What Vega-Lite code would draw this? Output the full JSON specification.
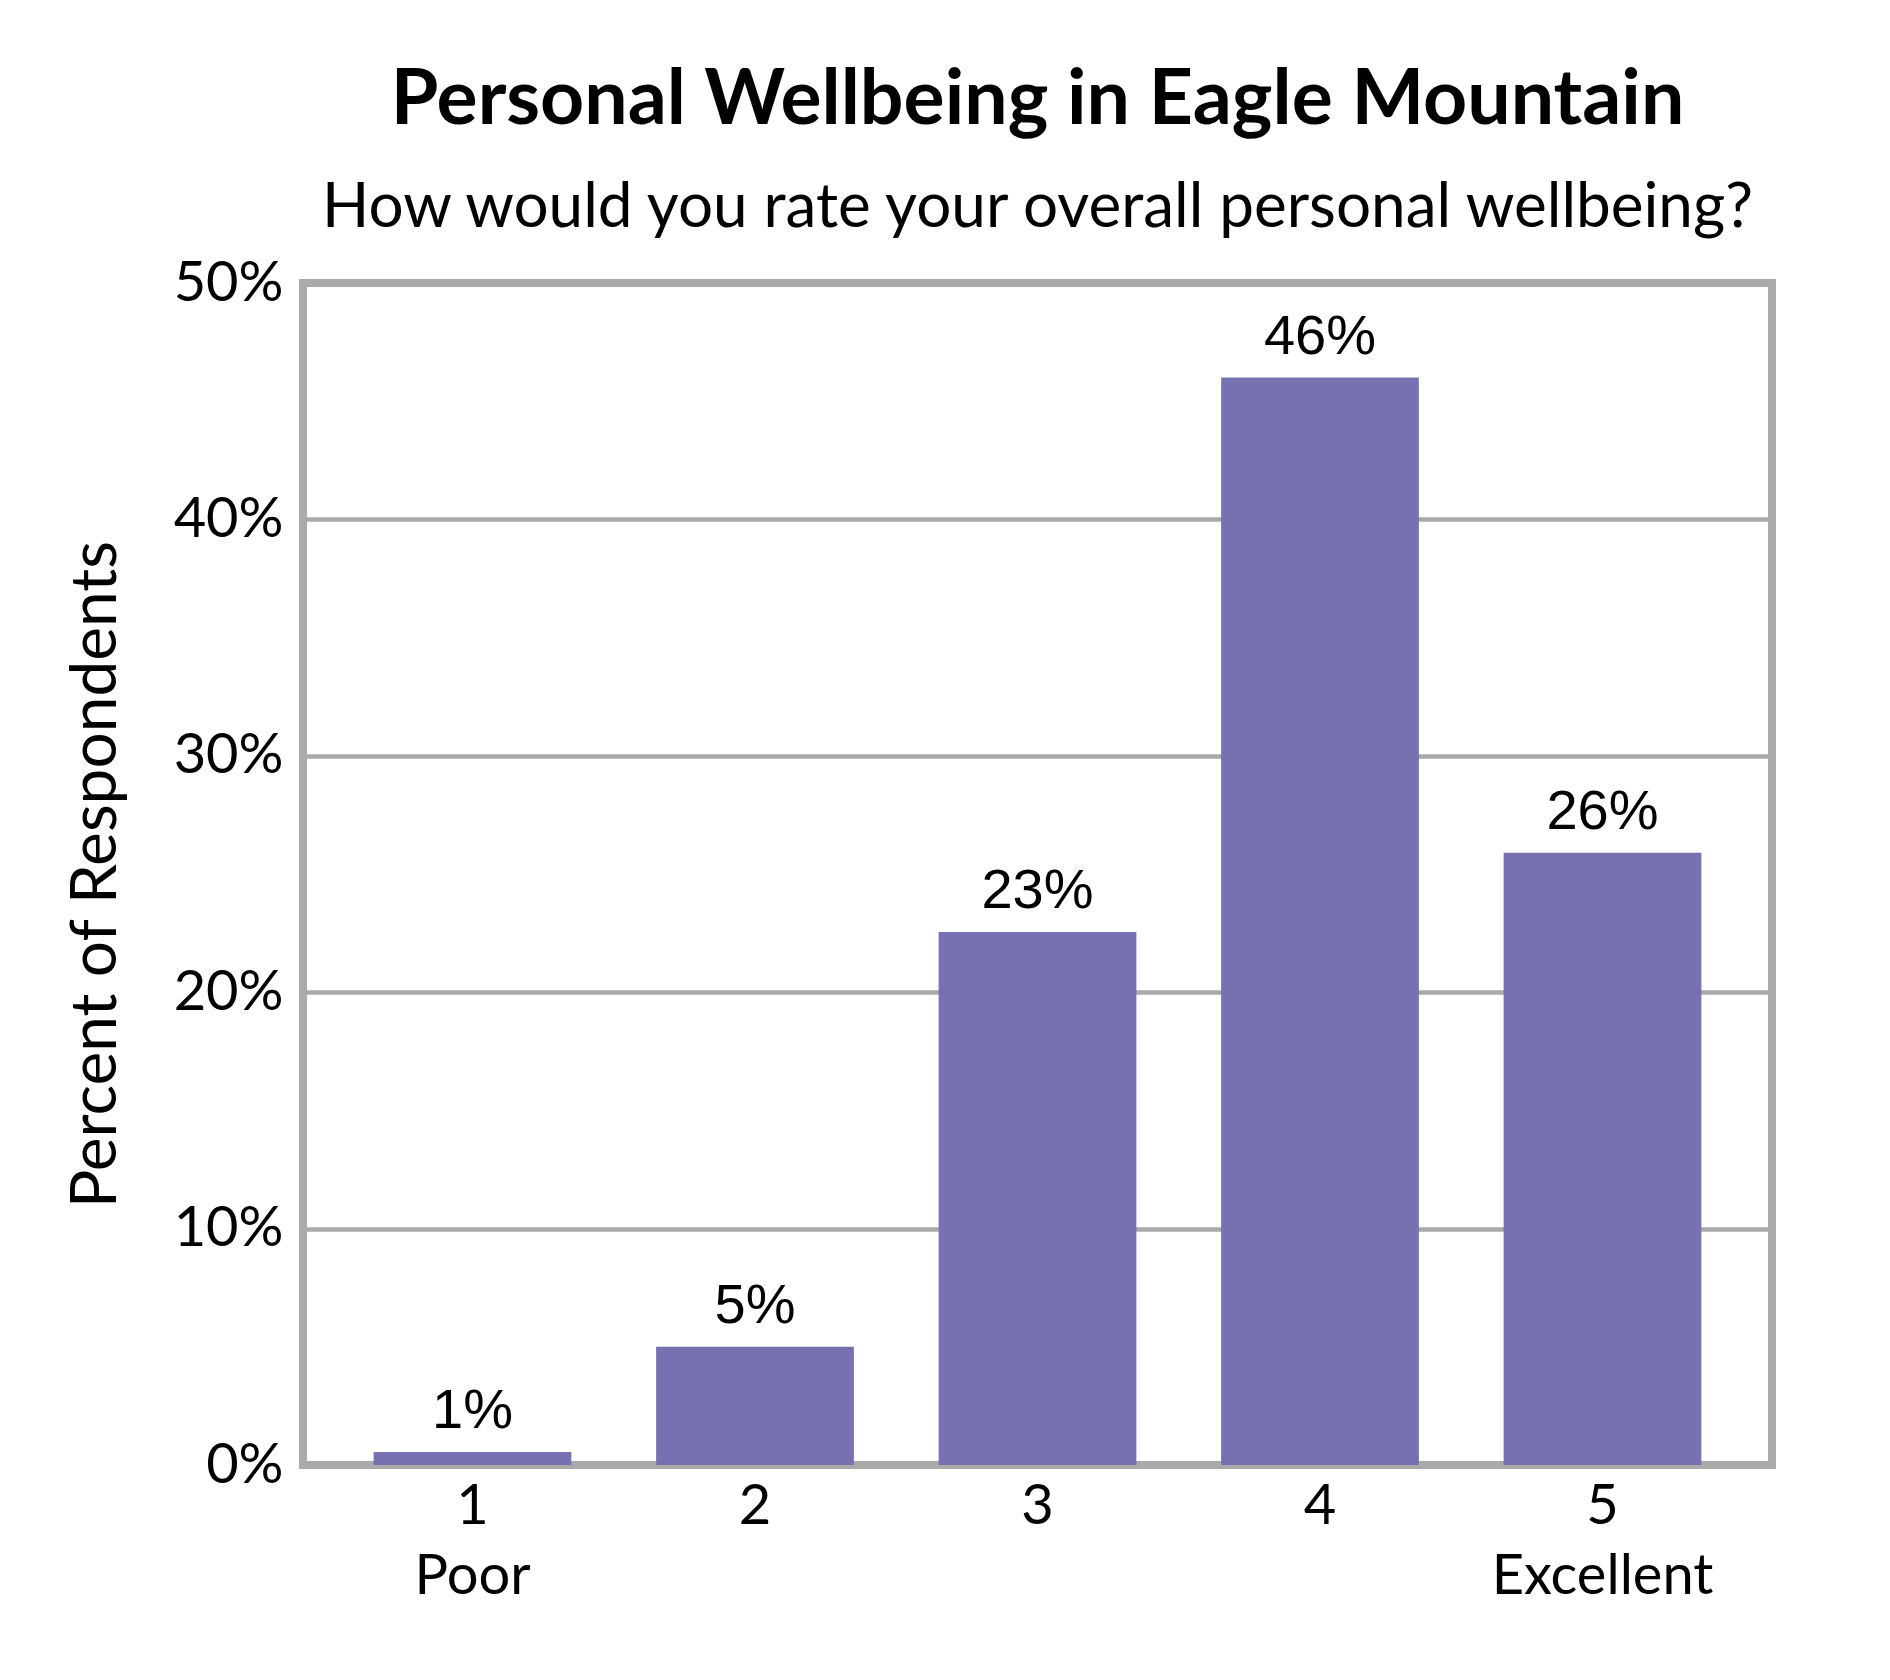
{
  "$schema": "https://vega.github.io/schema/vega-lite/v6.json",
  "width": 1469,
  "height": 1182,
  "autosize": { "type": "none" },
  "padding": { "left": 303, "top": 283, "right": 118, "bottom": 215 },
  "background": "white",
  "title": {
    "text": "Personal Wellbeing in Eagle Mountain",
    "subtitle": "How would you rate your overall personal wellbeing?",
    "font": "Lato",
    "fontSize": 77,
    "fontWeight": "bold",
    "color": "black",
    "subtitleFont": "Lato",
    "subtitleFontSize": 62,
    "subtitleColor": "black",
    "subtitlePadding": 38,
    "anchor": "middle",
    "offset": 15
  },
  "data": {
    "values": [
      { "rating": 1, "pct": 0.0055 },
      { "rating": 2, "pct": 0.05 },
      { "rating": 3, "pct": 0.2255 },
      { "rating": 4, "pct": 0.46 },
      { "rating": 5, "pct": 0.259 }
    ]
  },
  "encoding": {
    "x": {
      "field": "rating",
      "type": "ordinal",
      "scale": { "paddingInner": 0.3, "paddingOuter": 0.25 },
      "axis": {
        "title": null,
        "labelAngle": 0,
        "labelExpr": "datum.value == 1 ? ['1', 'Poor'] : datum.value == 5 ? ['5', 'Excellent'] : datum.label",
        "labelFont": "Lato",
        "labelFontSize": 56,
        "labelColor": "black",
        "labelLineHeight": 70,
        "labelPadding": 14,
        "labelLimit": 0,
        "domain": false,
        "ticks": false,
        "tickSize": 0
      }
    },
    "y": {
      "field": "pct",
      "type": "quantitative",
      "scale": { "domain": [0, 0.5] },
      "axis": {
        "values": [0, 0.1, 0.2, 0.3, 0.4, 0.5],
        "format": ".0%",
        "title": "Percent of Respondents",
        "titleFont": "Lato",
        "titleFontSize": 64,
        "titleFontWeight": "normal",
        "titleColor": "black",
        "titlePadding": 45,
        "labelFont": "Lato",
        "labelFontSize": 56,
        "labelColor": "black",
        "labelPadding": 20,
        "domain": false,
        "ticks": false,
        "tickSize": 0,
        "grid": true,
        "gridColor": "#aaaaaa",
        "gridWidth": 4.5
      }
    }
  },
  "layer": [
    { "mark": { "type": "bar", "color": "#7672b2" } },
    {
      "mark": {
        "type": "text",
        "font": "Liberation Sans",
        "fontSize": 56,
        "color": "black",
        "baseline": "alphabetic",
        "dy": -24
      },
      "encoding": { "text": { "field": "pct", "format": ".0%" } }
    }
  ],
  "config": {
    "view": { "stroke": "#aaaaaa", "strokeWidth": 8 }
  }
}
